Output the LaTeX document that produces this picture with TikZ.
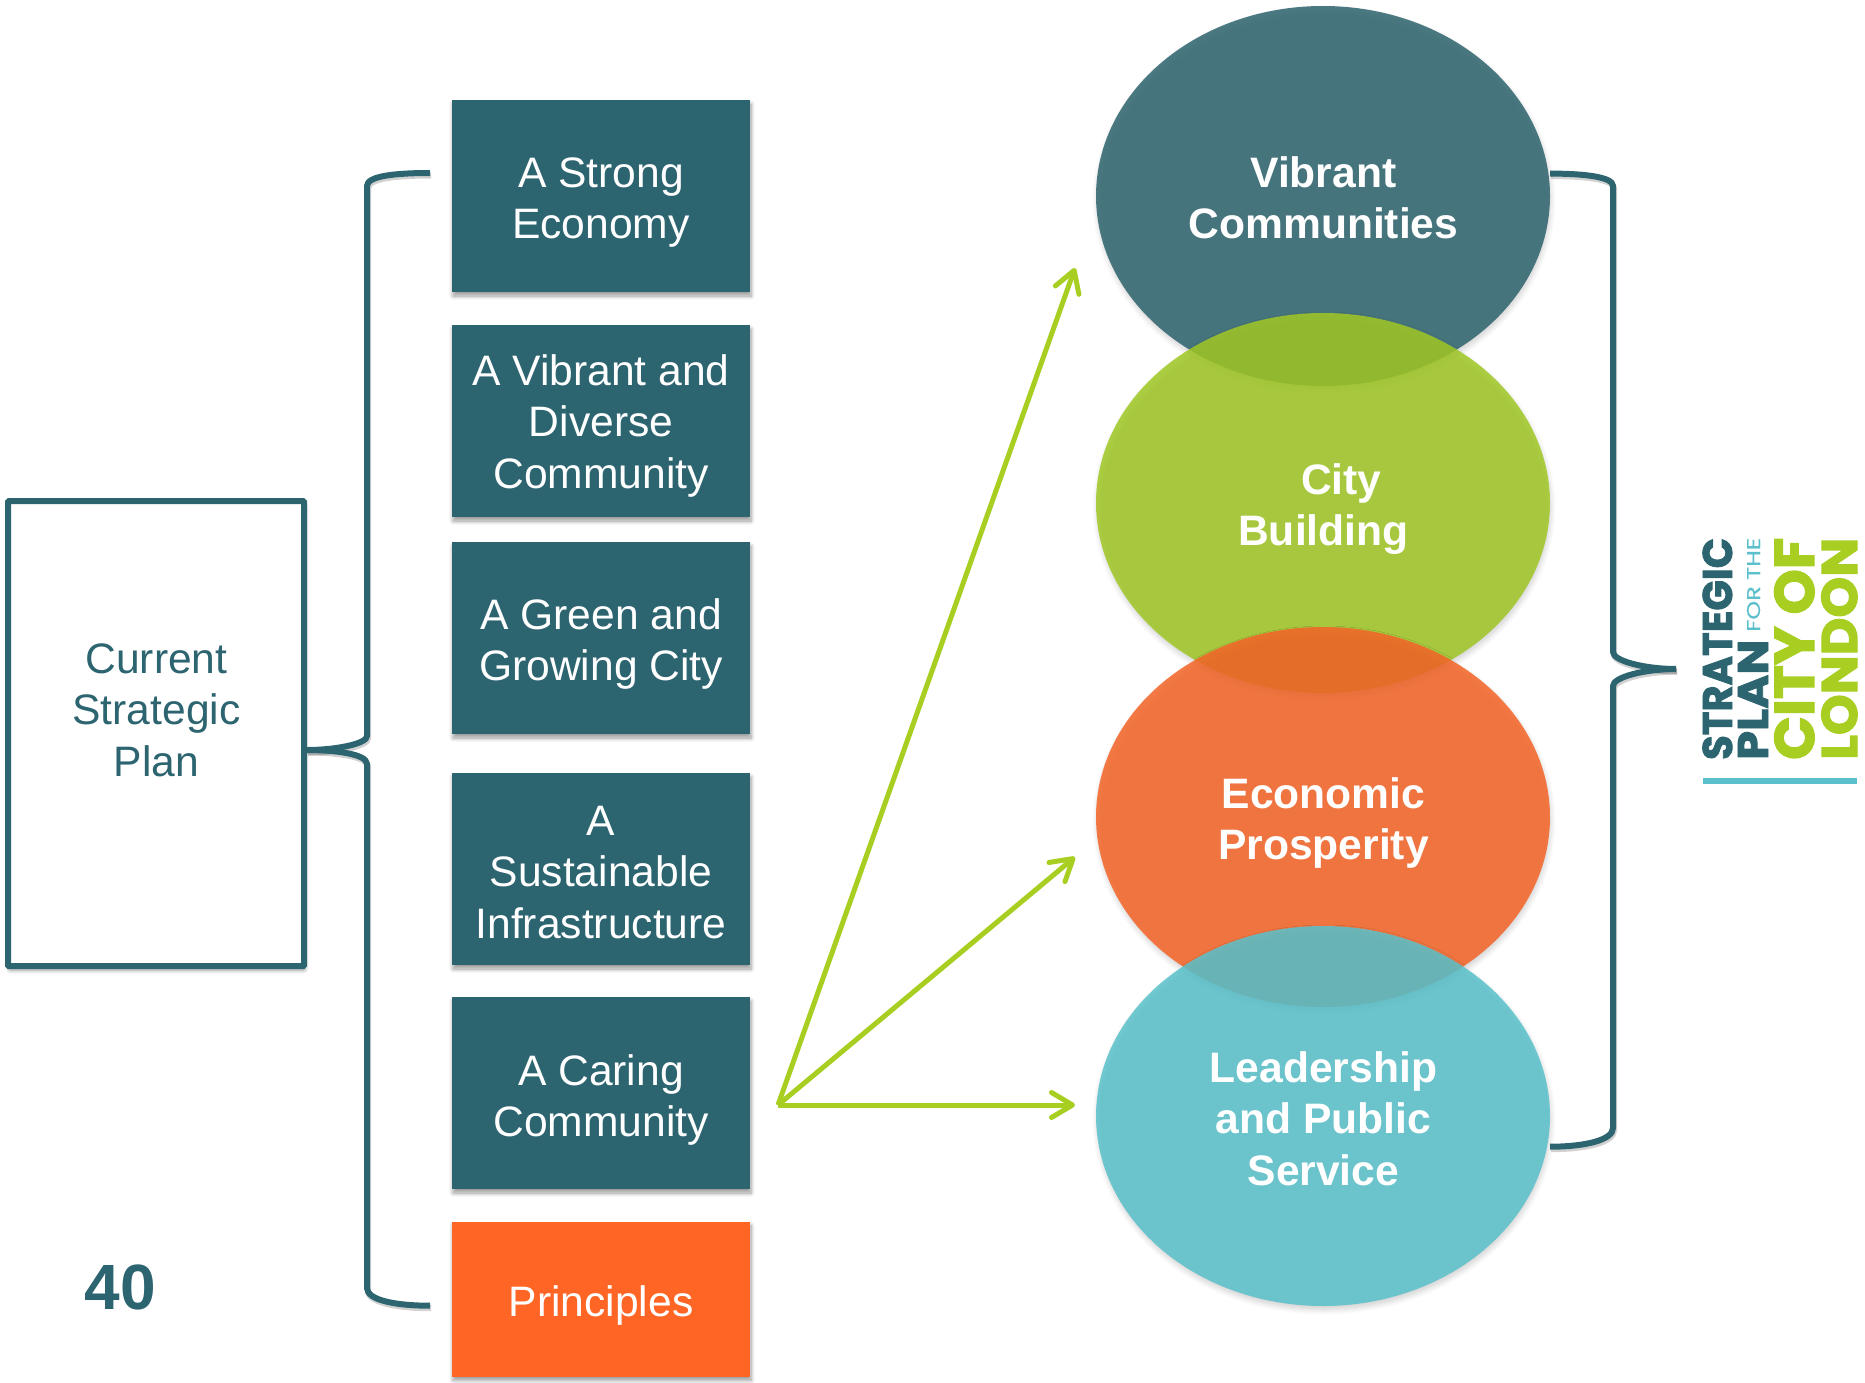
\documentclass[tikz,border=0pt]{standalone}
\usepackage{fontspec}
\setmainfont{Liberation Sans}
\usetikzlibrary{shapes.geometric,arrows.meta,shadows.blur,calc}
\definecolor{teal}{RGB}{44,100,112}
\definecolor{orangebox}{RGB}{255,102,38}
\definecolor{lime}{RGB}{168,206,33}
\definecolor{ecteal}{RGB}{47,100,110}
\definecolor{ecgreen}{RGB}{160,199,38}
\definecolor{ecorange}{RGB}{244,101,40}
\definecolor{ecblue}{RGB}{90,193,203}
\definecolor{logoblue}{RGB}{91,191,204}
\newsavebox\logobox
% text, width, cap height, face options, embolden amount
\newcommand\logoline[5]{%
  \pgfmathsetmacro\logosize{#3/0.7}%
  \sbox\logobox{\fontsize{\logosize}{\logosize}\selectfont\fontspec{Poppins}#4{}#1}%
  \pgfmathsetmacro\logostretch{#2/\wd\logobox}%
  \edef\logoselect{\noexpand\fontspec{Poppins}[FakeStretch=\logostretch,FakeBold=#5]}%
  \fontsize{\logosize}{\logosize}\selectfont\logoselect#4{}#1}
\tikzset{
  softshadow/.style={blur shadow={shadow xshift=1pt,shadow yshift=-4pt,shadow blur radius=4pt,shadow blur steps=6,shadow opacity=40}},
  planbox/.style={rectangle,fill=#1,minimum width=298pt,inner sep=0pt,softshadow},
  boxlabel/.style={text=white,align=center,inner sep=0pt,font=\fontsize{42.6}{51.5}\selectfont},
  pillar/.style={ellipse,fill=#1,fill opacity=.86,minimum width=454pt,minimum height=380pt,inner sep=0pt,
    blur shadow={shadow xshift=1pt,shadow yshift=-4pt,shadow blur radius=5pt,shadow blur steps=6,shadow opacity=20}},
  pillarlabel/.style={text=white,align=center,inner sep=0pt,font=\fontsize{42.6}{51.5}\selectfont\bfseries},
  bracket/.style={draw=teal,line width=6pt,line join=round,
    preaction={draw=black,opacity=.18,line width=6pt,transform canvas={xshift=1pt,yshift=-2.5pt}}},
  feed/.style={draw=lime,line width=5pt,-{Straight Barb[length=21pt,width=25pt,line width=5pt,round]}},
  logotext/.style={rotate=90,inner sep=0pt,anchor=base west},
}
\begin{document}
\begin{tikzpicture}[x=1pt,y=-1pt]
\useasboundingbox (0,0) rectangle (1865,1383);
% left frame
\node[rectangle,draw=teal,line width=6pt,fill=white,minimum width=296pt,minimum height=465pt,rounded corners=1pt,softshadow,inner sep=0pt] (cur) at (156,733.5) {};
\node[text=teal,align=center,inner sep=0pt,font=\fontsize{42.6}{51.5}\selectfont] (curtext) at (156.5,710) {Current\\Strategic\\Plan};
% boxes
\node[planbox=teal,minimum height=192pt] (b1) at (601,196) {};
\node[planbox=teal,minimum height=192pt] (b2) at (601,421) {};
\node[planbox=teal,minimum height=192pt] (b3) at (601,638) {};
\node[planbox=teal,minimum height=192pt] (b4) at (601,869) {};
\node[planbox=teal,minimum height=192pt] (b5) at (601,1093) {};
\node[planbox=orangebox,minimum height=155pt] (b6) at (601,1299) {};
\node[boxlabel] (t1) at (601,202.5) {A Strong\\Economy};
\node[boxlabel] (t2) at (601,425.5) {A Vibrant and\\Diverse\\Community};
\node[boxlabel] (t3) at (601,644) {A Green and\\Growing City};
\node[boxlabel] (t4) at (601,872.5) {A\\Sustainable\\Infrastructure};
\node[boxlabel] (t5) at (601,1100) {A Caring\\Community};
\node[boxlabel] (t6) at (601,1305) {Principles};
% ellipses
\node[pillar=ecteal] (e1) at (1323,196) {};
\node[pillar=ecgreen] (e2) at (1323,503) {};
\node[pillar=ecorange] (e3) at (1323,817) {};
\node[pillar=ecblue] (e4) at (1323,1116) {};
\node[pillarlabel] (p1) at (1323.4,198) {Vibrant\\Communities};
\node[pillarlabel] (p2) at (1323.4,509) {\hspace*{36pt}City\\Building};
\node[pillarlabel] (p3) at (1323.4,823) {Economic\\Prosperity};
\node[pillarlabel] (p4) at (1323.4,1118.5) {Leadership\\and Public\\Service};
% left bracket
\coordinate (ltop) at (430,173);
\coordinate (lbot) at (430,1305.7);
\coordinate (ltip) at (cur.east |- 0,750);
\draw[bracket] (ltop) .. controls (395,173) and (367,176) .. (367,186) -- (367,736)
  .. controls (367,744) and (335,750) .. (ltip);
\draw[bracket] (ltip) .. controls (335,750) and (367,754) .. (367,764) -- (367,1288)
  .. controls (367,1300) and (395,1305.7) .. (lbot);
% right bracket
\coordinate (rtop) at (e1.east |- 0,173.6);
\coordinate (rbot) at (e4.east |- 0,1146.7);
\coordinate (rtip) at (1676,669);
\draw[bracket] (rtop) .. controls (1585,173.6) and (1613,177) .. (1613,186) -- (1613,652)
  .. controls (1613,661) and (1645,669) .. (rtip);
\draw[bracket] (rtip) .. controls (1645,669) and (1613,677) .. (1613,686) -- (1613,1128)
  .. controls (1613,1140) and (1585,1146.7) .. (rbot);
% arrows
\coordinate (hub) at (778,1105);
\coordinate (a1) at (1075,268);
\coordinate (a2) at (1075,857);
\coordinate (a3) at (1075,1105);
\draw[feed] (hub) -- (a1);
\draw[feed] (hub) -- (a2);
\draw[feed] (hub) -- (a3);
% number
\node[text=teal,inner sep=0pt,font=\fontsize{64}{64}\selectfont\bfseries] (num) at (120.5,1287.5) {40};
% logo
\node[logotext,text=teal] (l1) at (1732,760) {\logoline{STRATEGIC}{222}{29}{\bfseries}{2}};
\node[logotext,text=teal] (l2) at (1768,760) {\logoline{PLAN}{120}{30}{\bfseries}{2}};
\node[logotext,text=logoblue] (l3) at (1760,632) {\logoline{FOR THE}{94}{13}{}{0.6}};
\node[logotext,text=lime] (l4) at (1814,760) {\logoline{CITY OF}{222}{39}{\bfseries}{2.5}};
\node[logotext,text=lime] (l5) at (1857,760) {\logoline{LONDON}{222}{35}{\bfseries}{2.5}};
\fill[logoblue] (1703,778) rectangle (1857,784);
\end{tikzpicture}
\end{document}
